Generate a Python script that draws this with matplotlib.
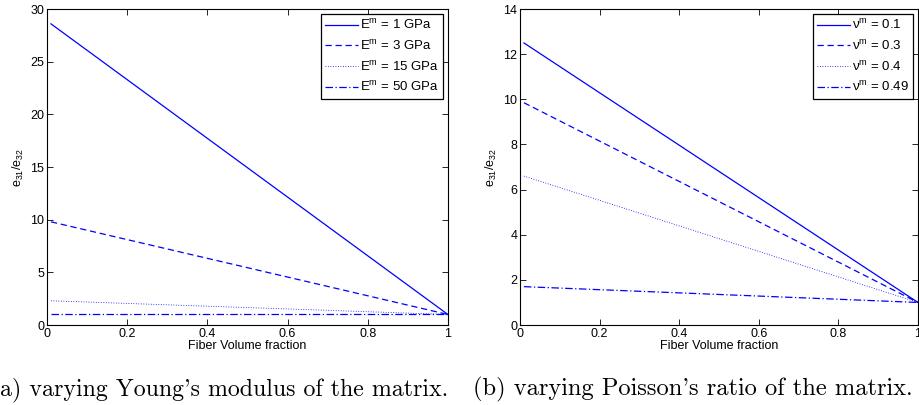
import numpy as np
import matplotlib.pyplot as plt

plt.rcParams['font.family'] = ['Liberation Sans', 'DejaVu Sans']
plt.rcParams['mathtext.default'] = 'regular'

# fiber volume fraction, endpoints of each (straight) curve
vf = [0.01, 1.0]

# (a) varying Young's modulus of the matrix
young_labels = ['1 GPa', '3 GPa', '15 GPa', '50 GPa']
young_vals = [[28.6, 1.0],
              [9.8, 1.0],
              [2.3, 1.0],
              [1.0, 1.0]]

# (b) varying Poisson's ratio of the matrix
poisson_labels = ['0.1', '0.3', '0.4', '0.49']
poisson_vals = [[12.5, 1.0],
                [9.85, 1.0],
                [6.6, 1.0],
                [1.7, 1.0]]

styles = [dict(ls='-', lw=0.9),
          dict(ls=(0, (5, 3)), lw=0.9),
          dict(ls=(0, (1, 2)), lw=0.6),
          dict(ls=(0, (6, 2, 1, 2)), lw=0.9)]

fig = plt.figure(figsize=(9.19, 4.05), dpi=100)
ax1 = fig.add_axes([0.0511, 0.1975, 0.4363, 0.780])
ax2 = fig.add_axes([0.5658, 0.1975, 0.4331, 0.780])


def dibujar(ax, vals, labels, prefijo, ymax, ystep):
    for v, lab, st in zip(vals, labels, styles):
        ax.plot(vf, v, color='#0000ff', label=prefijo + ' = ' + lab, **st)
    ax.set_xlim(0, 1)
    ax.set_ylim(0, ymax)
    ax.set_xticks(np.arange(0, 1.01, 0.2))
    ax.set_xticklabels(['0', '0.2', '0.4', '0.6', '0.8', '1'])
    ax.set_yticks(np.arange(0, ymax + 0.1, ystep))
    ax.tick_params(direction='in', top=True, right=True, labelsize=9,
                   length=4, width=0.6, pad=2)
    for s in ax.spines.values():
        s.set_linewidth(0.8)
    ax.set_xlabel('Fiber Volume fraction', fontsize=9, labelpad=0)
    ax.set_ylabel('e$_{31}$/e$_{32}$', fontsize=9, labelpad=3)
    leg = ax.legend(loc='upper right', fontsize=9.5, handlelength=2.5,
                    handletextpad=0.1, borderpad=0.35, labelspacing=0.5,
                    borderaxespad=0.35, fancybox=False, framealpha=1)
    leg.get_frame().set_edgecolor('black')
    leg.get_frame().set_linewidth(0.9)


dibujar(ax1, young_vals, young_labels, 'E$^{m}$', 30, 5)
dibujar(ax2, poisson_vals, poisson_labels, 'ν$^{m}$', 14, 2)

serif = ['cmr10', 'DejaVu Serif']
fig.text(0.0, 0.0247, "a) varying Young's modulus of the matrix.",
         family=serif, fontsize=17.2, va='baseline', ha='left')
fig.text(0.515, 0.0247, "(b) varying Poisson's ratio of the matrix.",
         family=serif, fontsize=17.6, va='baseline', ha='left')

fig.savefig('out.png', dpi=100)
